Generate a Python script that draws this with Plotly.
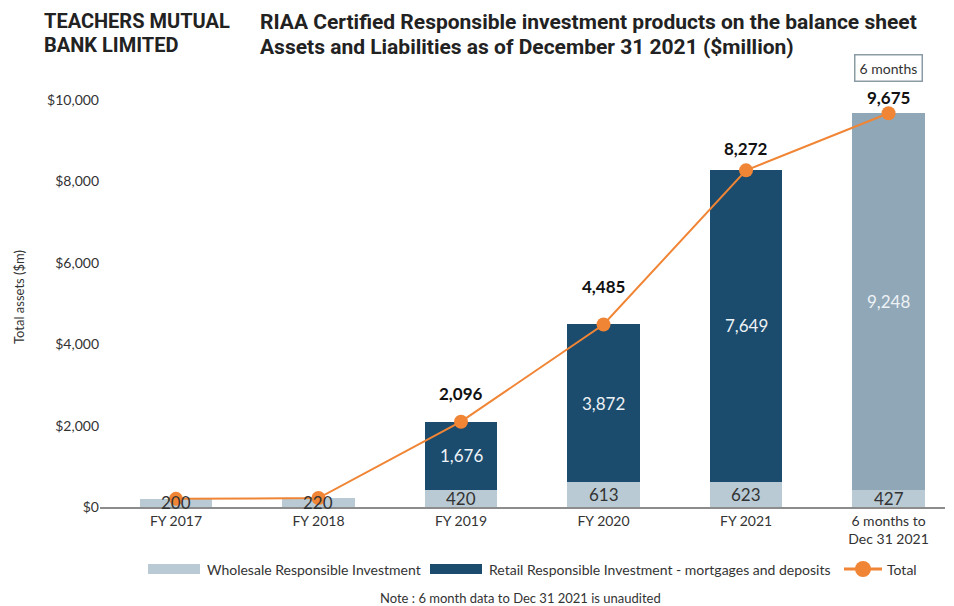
import plotly.graph_objects as go

# ---------------- data ----------------
categories = ["FY 2017", "FY 2018", "FY 2019", "FY 2020", "FY 2021", "6 months to<br>Dec 31 2021"]
wholesale = [200, 220, 420, 613, 623, 427]
retail = [0, 0, 1676, 3872, 7649, 9248]
totals = [200, 220, 2096, 4485, 8272, 9675]
y_ticks = [0, 2000, 4000, 6000, 8000, 10000]
y_tick_labels = ["$0", "$2,000", "$4,000", "$6,000", "$8,000", "$10,000"]

# ---------------- styles ----------------
C_WHOLE = "#b9cad4"
C_RETAIL = "#1b4b6d"
C_HALF = "#8fa7b7"
C_TOTAL = "#f08535"
TXT = "#333333"
BODY = "Lato, 'Open Sans', sans-serif"
COND = "Roboto, 'Liberation Sans', sans-serif"

W, H = 954, 606
L, R, T, B = 100, 945, 70, 507


def px_x(p):
    return (p - L) / (R - L)


def px_y(p):
    return (B - p) / (B - T)


retail_colors = [C_RETAIL] * (len(categories) - 1) + [C_HALF]
total_label_shift = [0, 0, 28, 38, 22, 16]

fig = go.Figure()
fig.add_trace(go.Bar(x=categories, y=wholesale, marker=dict(color=C_WHOLE, line=dict(width=0)),
                     width=0.51, name="Wholesale Responsible Investment", hoverinfo="skip"))
fig.add_trace(go.Bar(x=categories, y=retail, marker=dict(color=retail_colors, line=dict(width=0)),
                     width=0.51, name="Retail Responsible Investment - mortgages and deposits",
                     hoverinfo="skip"))
fig.add_trace(go.Scatter(x=categories, y=totals, mode="lines+markers", name="Total",
                         line=dict(color=C_TOTAL, width=2),
                         marker=dict(color=C_TOTAL, size=14), hoverinfo="skip"))

ann = []


def note(text, x, y, size, color=TXT, family=BODY, xanchor="center", **kw):
    ann.append(dict(x=x, y=y, xref="paper", yref="paper", text=text, showarrow=False,
                    xanchor=xanchor, yanchor="middle",
                    font=dict(family=family, size=size, color=color), **kw))


for i, c in enumerate(categories):
    ann.append(dict(x=c, y=wholesale[i] / 2, xref="x", yref="y", text=f"{wholesale[i]:,}",
                    showarrow=False, yanchor="middle", xanchor="center",
                    font=dict(family=BODY, size=17, color=TXT)))
    if retail[i] > 0:
        ann.append(dict(x=c, y=wholesale[i] + retail[i] / 2, xref="x", yref="y",
                        text=f"{retail[i]:,}", showarrow=False, yanchor="middle",
                        xanchor="center", font=dict(family=BODY, size=17, color="#eef2f5")))
        ann.append(dict(x=c, y=totals[i], xref="x", yref="y", text=f"<b>{totals[i]:,}</b>",
                        showarrow=False, yshift=total_label_shift[i], yanchor="middle",
                        xanchor="center", font=dict(family=BODY, size=17, color="#111111")))

# "6 months" box
ann.append(dict(x=categories[-1], y=px_y(68), xref="x", yref="paper", text="6 months",
                showarrow=False, xanchor="center", yanchor="middle",
                font=dict(family=BODY, size=14, color=TXT),
                bordercolor="#8a9ba6", borderwidth=1.5, borderpad=4, bgcolor="white"))

# titles
note("<b>TEACHERS MUTUAL</b>", px_x(42), px_y(21), 20, "#222222", COND, "left")
note("<b>BANK LIMITED</b>", px_x(42), px_y(45), 20, "#222222", COND, "left")
note("<b>RIAA Certified Responsible investment products on the balance sheet</b>",
     px_x(258), px_y(22), 21, "#222222", COND, "left")
note("<b>Assets and Liabilities as of December 31 2021 ($million)</b>",
     px_x(258), px_y(47), 21, "#222222", COND, "left")

# y axis title
note("Total assets ($m)", px_x(19), px_y(297), 13, textangle=-90)

# custom legend
shapes = []
shapes.append(dict(type="rect", xref="paper", yref="paper", x0=px_x(148), x1=px_x(200),
                   y0=px_y(574), y1=px_y(564), fillcolor=C_WHOLE, line=dict(width=0)))
note("Wholesale Responsible Investment", px_x(205), px_y(569), 14, xanchor="left")
shapes.append(dict(type="rect", xref="paper", yref="paper", x0=px_x(430), x1=px_x(482),
                   y0=px_y(574), y1=px_y(564), fillcolor=C_RETAIL, line=dict(width=0)))
note("Retail Responsible Investment - mortgages and deposits", px_x(487), px_y(569), 14,
     xanchor="left")
shapes.append(dict(type="line", xref="paper", yref="paper", x0=px_x(844), x1=px_x(882),
                   y0=px_y(569), y1=px_y(569), line=dict(color=C_TOTAL, width=3)))
shapes.append(dict(type="circle", xref="paper", yref="paper", x0=px_x(855), x1=px_x(871),
                   y0=px_y(577), y1=px_y(561), fillcolor=C_TOTAL, line=dict(width=0)))
note("Total", px_x(885), px_y(569), 14, xanchor="left")

# note
note("Note : 6 month data to Dec 31 2021 is unaudited", px_x(520), px_y(598), 13)

fig.update_layout(
    width=W, height=H,
    margin=dict(l=L, r=W - R, t=T, b=H - B),
    barmode="stack",
    showlegend=False,
    plot_bgcolor="white", paper_bgcolor="white",
    font=dict(family=BODY, size=13, color=TXT),
    annotations=ann, shapes=shapes,
    xaxis=dict(type="category", range=[-0.533, 5.396], showline=True, linecolor="#8c8c8c",
               linewidth=1.5, ticks="", showgrid=False, zeroline=False,
               tickfont=dict(family=BODY, size=14, color=TXT)),
    yaxis=dict(range=[0, (B - T) / 0.0407], tickvals=y_ticks, ticktext=y_tick_labels,
               showgrid=False, zeroline=False, showline=False, ticks="",
               tickfont=dict(family=BODY, size=14, color=TXT)),
)

fig.write_html("out.html")
